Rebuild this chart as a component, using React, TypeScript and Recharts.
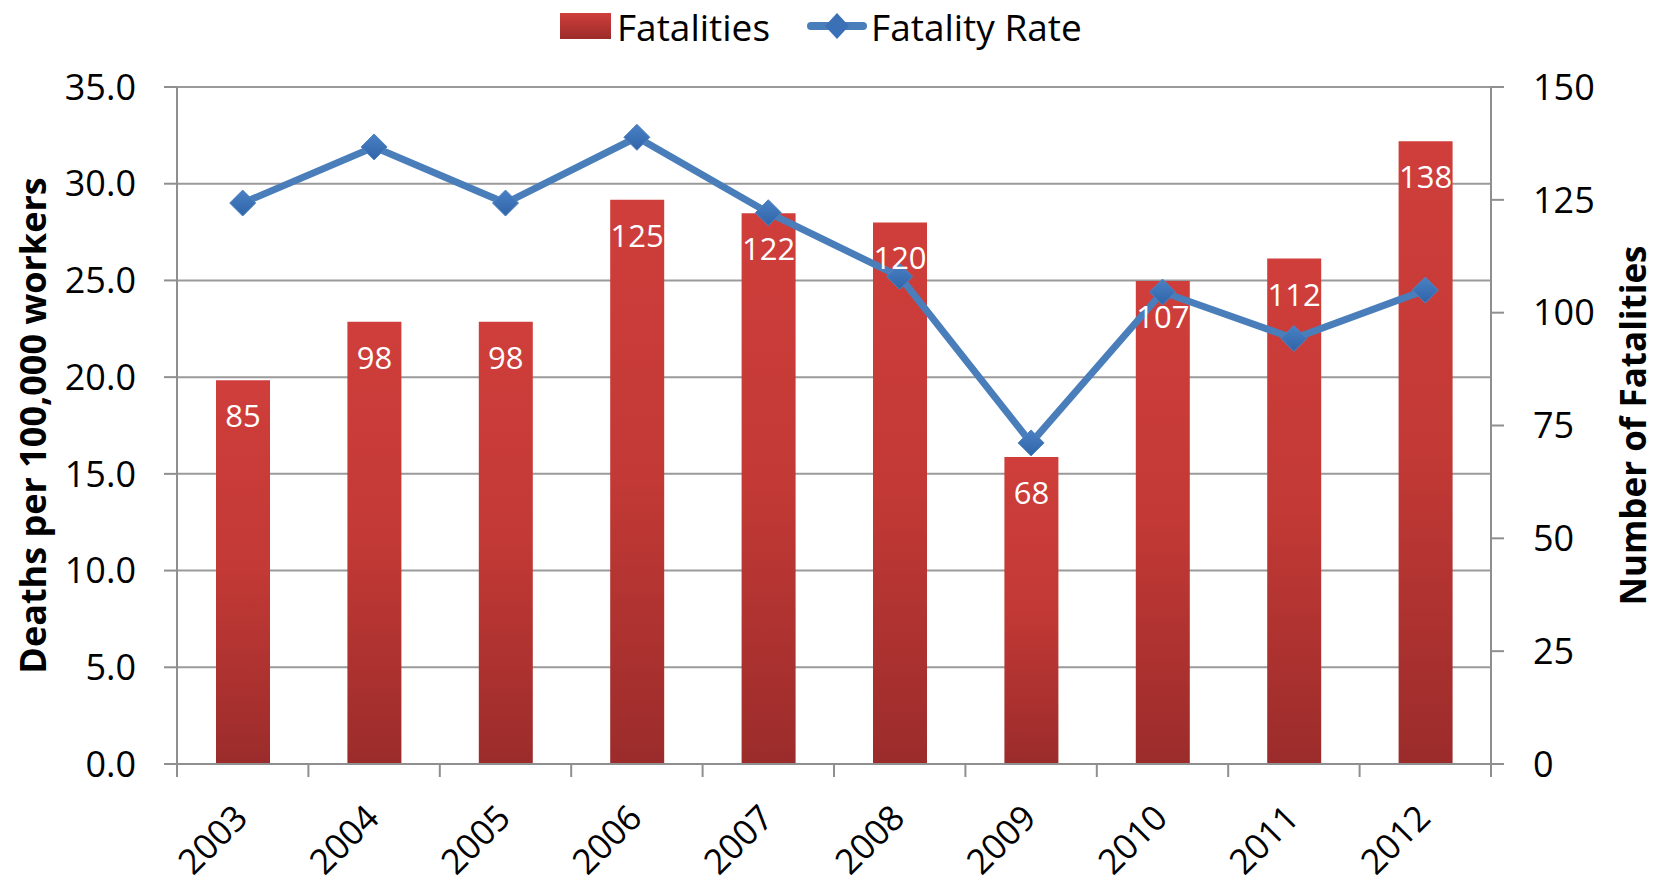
import {
  ComposedChart,
  Bar,
  Line,
  XAxis,
  YAxis,
  CartesianGrid,
  Legend,
  LabelList,
} from "recharts";

const years = ["2003", "2004", "2005", "2006", "2007", "2008", "2009", "2010", "2011", "2012"];
const fatalities = [85, 98, 98, 125, 122, 120, 68, 107, 112, 138];
const fatalityRate = [29.0, 31.9, 29.0, 32.4, 28.5, 25.2, 16.6, 24.4, 22.0, 24.5];
const rateTicks = [0, 5, 10, 15, 20, 25, 30, 35];
const countTicks = [0, 25, 50, 75, 100, 125, 150];

const FONT = "'Open Sans', sans-serif";
const GRAY = "#8f8f8f";
const LINE_BLUE = "#4a7ebb";

// each year sits in the middle of its slot, so tick marks can fall between bars
const data = years.map((year, i) => ({
  pos: i + 0.5,
  year,
  fatalities: fatalities[i],
  rate: fatalityRate[i],
}));
const xTicks = years.flatMap((_, i) => [i, i + 0.5]).concat(years.length);

function XTick(props: any) {
  const { x, y, payload } = props;
  const v = payload.value;
  if (Number.isInteger(v)) {
    return <line x1={x} x2={x} y1={y} y2={y + 13} stroke={GRAY} strokeWidth={2} />;
  }
  const ax = x + 7;
  const ay = y + 56;
  return (
    <text
      x={ax}
      y={ay}
      transform={`rotate(-45 ${ax} ${ay})`}
      textAnchor="end"
      fontSize={35}
      fontFamily={FONT}
      fill="#000"
    >
      {years[Math.floor(v)]}
    </text>
  );
}

function Diamond(props: any) {
  const { cx, cy, index } = props;
  if (cx == null || cy == null) return null;
  const r = 13;
  return (
    <path
      key={index}
      d={`M${cx},${cy - r} L${cx + r},${cy} L${cx},${cy + r} L${cx - r},${cy} Z`}
      fill="url(#diamondFill)"
      stroke="#4f83c2"
      strokeWidth={1}
    />
  );
}

function BarValue(props: any) {
  const { x, y, width, value } = props;
  return (
    <text
      x={x + width / 2}
      y={y + 47}
      textAnchor="middle"
      fill="#fff"
      fontSize={31}
      fontFamily={FONT}
    >
      {value}
    </text>
  );
}

function AxisTitle({ viewBox, dx, text, size }: any) {
  const cx = viewBox.x + dx;
  const cy = viewBox.y + viewBox.height / 2;
  return (
    <text
      x={cx}
      y={cy}
      transform={`rotate(-90 ${cx} ${cy})`}
      textAnchor="middle"
      dominantBaseline="central"
      fontSize={size}
      fontWeight="bold"
      fontFamily={FONT}
      fill="#000"
    >
      {text}
    </text>
  );
}

function LegendContent() {
  const textStyle = { fontSize: 37, fontFamily: FONT, color: "#000", lineHeight: 1 };
  return (
    <div style={{ height: 52, display: "flex", alignItems: "center", paddingLeft: 560 }}>
      <div
        style={{
          width: 51,
          height: 26,
          marginRight: 6,
          background: "linear-gradient(#cf3e3b, #9b2c2b)",
        }}
      />
      <span style={textStyle}>Fatalities</span>
      <svg width={60} height={30} style={{ marginLeft: 37, marginRight: 4 }}>
        <line x1={4} x2={56} y1={15} y2={15} stroke={LINE_BLUE} strokeWidth={8} strokeLinecap="round" />
        <path d="M30,2 L42,15 L30,28 L18,15 Z" fill="#3b70b6" />
      </svg>
      <span style={textStyle}>Fatality Rate</span>
    </div>
  );
}

export default function App() {
  return (
    <div style={{ width: 1656, height: 884, background: "#fff" }}>
      <style>{"body{margin:0}"}</style>
      <ComposedChart
        width={1656}
        height={884}
        data={data}
        margin={{ top: 35, right: 0, bottom: 20, left: 0 }}
      >
        <defs>
          <linearGradient id="barFill" x1="0" y1="0" x2="0" y2="1">
            <stop offset="0%" stopColor="#cf3e3b" />
            <stop offset="50%" stopColor="#c23935" />
            <stop offset="100%" stopColor="#9b2c2b" />
          </linearGradient>
          <linearGradient id="diamondFill" x1="0" y1="0" x2="0" y2="1">
            <stop offset="0%" stopColor="#4a80c4" />
            <stop offset="100%" stopColor="#2f64a8" />
          </linearGradient>
        </defs>

        <Legend
          verticalAlign="top"
          align="left"
          wrapperStyle={{ top: 0, left: 0, width: 1656 }}
          content={() => <LegendContent />}
        />

        <CartesianGrid vertical={false} yAxisId="left" stroke="#9a9a9a" strokeWidth={2} />

        <XAxis
          dataKey="pos"
          type="number"
          domain={[0, years.length]}
          ticks={xTicks}
          interval={0}
          tickLine={false}
          tickSize={0}
          tickMargin={0}
          height={100}
          axisLine={{ stroke: GRAY, strokeWidth: 2 }}
          tick={<XTick />}
        />

        <YAxis
          yAxisId="left"
          domain={[0, 35]}
          ticks={rateTicks}
          interval={0}
          width={177}
          tickSize={13}
          tickMargin={28}
          tickFormatter={(v) => Number(v).toFixed(1)}
          tick={{ fontSize: 36, fill: "#000", fontFamily: FONT }}
          tickLine={{ stroke: GRAY, strokeWidth: 2 }}
          axisLine={{ stroke: GRAY, strokeWidth: 2 }}
          label={{
            content: (p: any) => (
              <AxisTitle viewBox={p.viewBox} dx={32} size={36} text="Deaths per 100,000 workers" />
            ),
          }}
        />

        <YAxis
          yAxisId="right"
          orientation="right"
          domain={[0, 150]}
          ticks={countTicks}
          interval={0}
          width={165}
          tickSize={13}
          tickMargin={29}
          tick={{ fontSize: 36, fill: "#000", fontFamily: FONT }}
          tickLine={{ stroke: GRAY, strokeWidth: 2 }}
          axisLine={{ stroke: GRAY, strokeWidth: 2 }}
          label={{
            content: (p: any) => (
              <AxisTitle viewBox={p.viewBox} dx={141} size={35} text="Number of Fatalities" />
            ),
          }}
        />

        <Bar
          yAxisId="right"
          dataKey="fatalities"
          name="Fatalities"
          barSize={54}
          fill="url(#barFill)"
          isAnimationActive={false}
        >
          <LabelList dataKey="fatalities" content={<BarValue />} />
        </Bar>

        <Line
          yAxisId="left"
          dataKey="rate"
          name="Fatality Rate"
          stroke={LINE_BLUE}
          strokeWidth={7}
          dot={<Diamond />}
          activeDot={false}
          isAnimationActive={false}
        />
      </ComposedChart>
    </div>
  );
}
